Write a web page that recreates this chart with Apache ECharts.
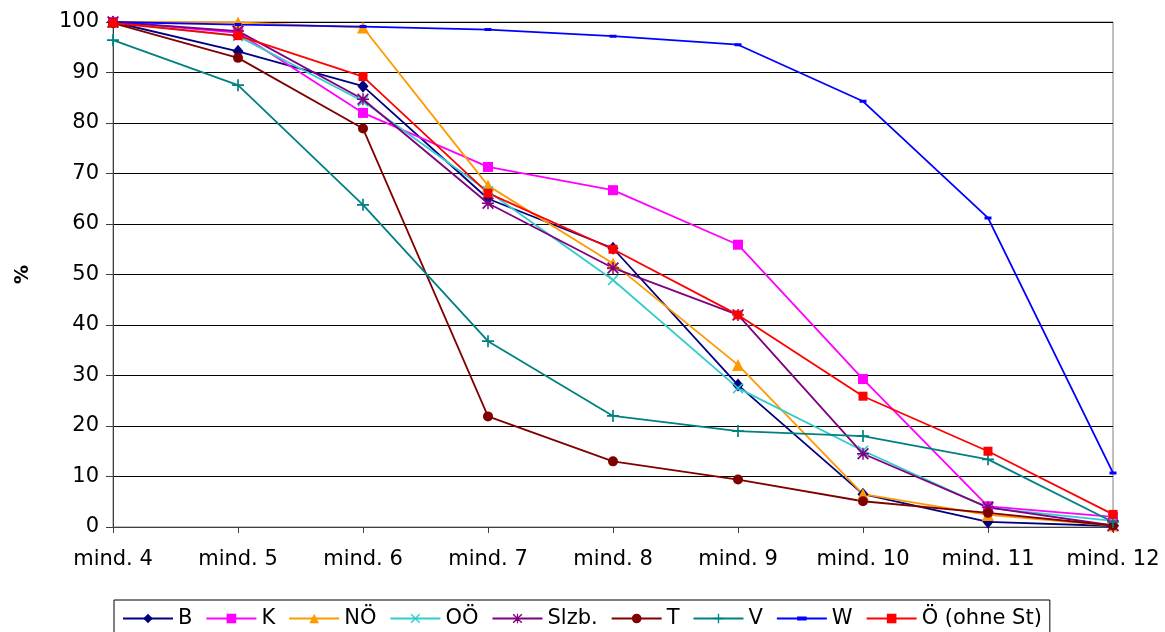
<!DOCTYPE html>
<html><head><meta charset="utf-8">
<script src="https://cdn.jsdelivr.net/npm/echarts@6/dist/echarts.min.js"></script>
<style>html,body{margin:0;padding:0;background:#fff}#c{width:1165px;height:632px}</style>
</head><body><div id="c"></div>
<script>
const categories = ['mind. 4','mind. 5','mind. 6','mind. 7','mind. 8','mind. 9','mind. 10','mind. 11','mind. 12'];
const yTicks = [0,10,20,30,40,50,60,70,80,90,100];
const B    = [100, 94.2, 87.3, 65.0, 55.2, 28.1, 6.5, 1.0, 0.2];
const K    = [100, 97.9, 82.0, 71.3, 66.7, 55.9, 29.3, 4.1, 2.0];
const NOE  = [100, 99.9, 98.9, 67.6, 52.2, 32.1, 6.5, 2.4, 0.3];
const OOE  = [100, 97.2, 84.3, 66.5, 48.9, 27.5, 15.1, 3.8, 1.2];
const SLZB = [100, 98.2, 84.7, 64.1, 51.3, 42.0, 14.5, 3.9, 0.3];
const T    = [99.8, 92.9, 78.9, 21.9, 13.0, 9.4, 5.1, 2.8, 0.3];
const V    = [96.4, 87.5, 63.8, 36.8, 22.0, 19.0, 18.0, 13.4, 1.0];
const W    = [100, 99.5, 99.1, 98.5, 97.2, 95.5, 84.3, 61.2, 10.7];
const OE   = [99.8, 97.3, 89.2, 66.1, 55.0, 42.0, 25.9, 15.0, 2.5];

const plusPath = 'path://M4.3,0h1.4v4.3h4.3v1.4h-4.3v4.3h-1.4v-4.3h-4.3v-1.4h4.3z';
const xPath = 'path://M1,0L5,4L9,0L10,1L6,5L10,9L9,10L5,6L1,10L0,9L4,5L0,1z';
const starPath = 'path://M4.4,0h1.2v4.4h4.4v1.2h-4.4v4.4h-1.2v-4.4h-4.4v-1.2h4.4zM1,0L5,4L9,0L10,1L6,5L10,9L9,10L5,6L1,10L0,9L4,5L0,1z';
const dashPath = 'path://M0,0l0.01,0l0,0.01zM0,2h7v3h-7zM7,7l-0.01,0l0,-0.01z';

const FONT = 'DejaVu Sans, Liberation Sans, sans-serif';

const defs = [
  {name:'B', data:B, color:'#000080', symbol:'diamond', size:[11,13]},
  {name:'K', data:K, color:'#FF00FF', symbol:'rect', size:10},
  {name:'NÖ', data:NOE, color:'#FF9900', symbol:'triangle', size:12},
  {name:'OÖ', data:OOE, color:'#33CCCC', symbol:xPath, size:11},
  {name:'Slzb.', data:SLZB, color:'#800080', symbol:starPath, size:12},
  {name:'T', data:T, color:'#800000', symbol:'circle', size:10},
  {name:'V', data:V, color:'#008080', symbol:plusPath, size:12},
  {name:'W', data:W, color:'#0000FF', symbol:dashPath, size:7},
  {name:'Ö (ohne St)', data:OE, color:'#FF0000', symbol:'rect', size:9}
];

const chart = echarts.init(document.getElementById('c'), null, {renderer:'canvas'});
chart.setOption({
  animation:false,
  backgroundColor:'#fff',
  textStyle:{fontFamily:FONT},
  grid:{left:113, right:52, top:22, bottom:105, show:true, borderColor:'#808080', borderWidth:1, backgroundColor:'transparent'},
  legend:{
    data: defs.map(d=>d.name),
    left:114, top:600, width:1000,
    borderColor:'#000', borderWidth:1, padding:[8,8,6,8],
    itemWidth:50, itemHeight:12, itemGap:13,
    symbolKeepAspect:true,
    textStyle:{fontSize:21, color:'#000', fontFamily:FONT}
  },
  xAxis:{
    type:'category', data:categories, boundaryGap:false,
    axisLine:{lineStyle:{color:'#404040', width:1}},
    axisTick:{show:true, alignWithLabel:true, length:6, lineStyle:{color:'#404040'}},
    axisLabel:{fontSize:21, color:'#000', margin:22, interval:0}
  },
  yAxis:{
    type:'value', min:0, max:100, interval:10,
    name:'%', nameLocation:'middle', nameGap:80, nameRotate:90,
    nameTextStyle:{fontSize:19, fontWeight:'bold', color:'#000'},
    axisLine:{show:true, lineStyle:{color:'#404040', width:1}},
    axisTick:{show:true, length:7, inside:false, lineStyle:{color:'#404040'}},
    axisLabel:{fontSize:21, color:'#000', margin:14, formatter:v=>yTicks.includes(v)?String(v):''},
    splitLine:{show:true, lineStyle:{color:'#000', width:1}}
  },
  series: defs.map(d=>({
    name:d.name, type:'line', data:d.data,
    symbol:d.symbol, symbolSize:d.size, showAllSymbol:true,
    lineStyle:{color:d.color, width:1.8},
    itemStyle:{color:d.color, borderWidth:0},
    emphasis:{disabled:true}
  }))
});
</script></body></html>
